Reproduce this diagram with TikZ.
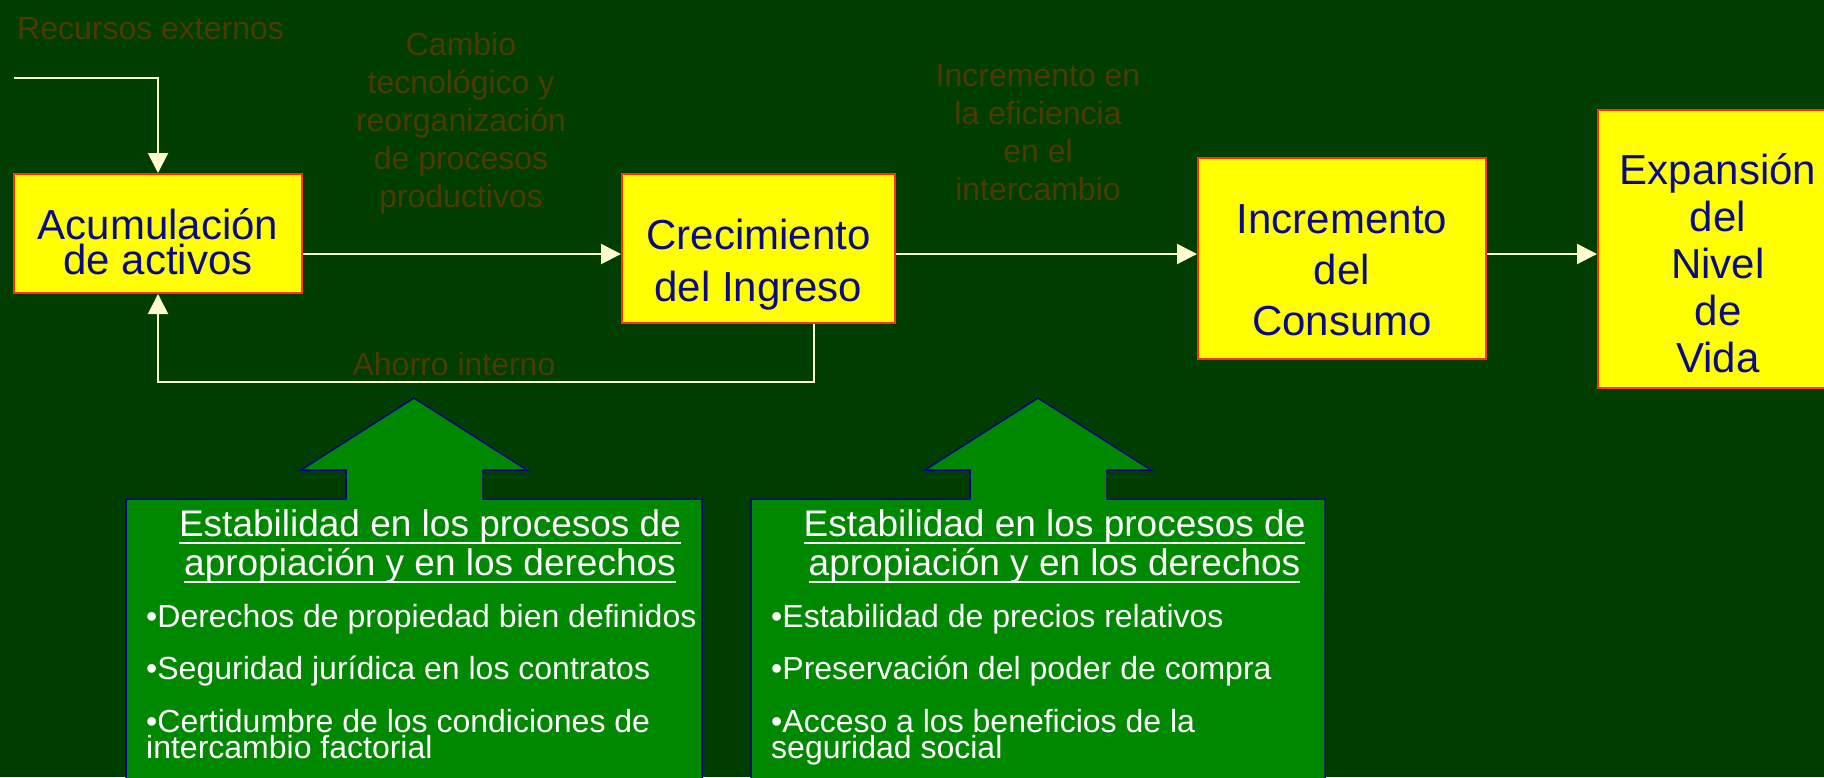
\documentclass[tikz,border=0pt]{standalone}
\usepackage{fontspec}
\setmainfont{Liberation Sans}
\usetikzlibrary{arrows.meta}
\definecolor{fondo}{RGB}{0,62,0}
\definecolor{amarillo}{RGB}{255,255,0}
\definecolor{borde}{RGB}{255,51,0}
\definecolor{azul}{RGB}{10,10,130}
\definecolor{cafe}{RGB}{77,58,0}
\definecolor{crema}{RGB}{255,255,204}
\definecolor{verde}{RGB}{0,136,0}
\definecolor{marino}{RGB}{0,0,128}
\newcommand{\subrayado}[1]{\setbox0\hbox{#1}\rlap{\rule[-7.8pt]{\wd0}{1.8pt}}\box0}
\begin{document}
\begin{tikzpicture}[x=1pt,y=-1pt,
    caja/.style={draw=borde,line width=2pt,fill=amarillo},
    cajatexto/.style={text=azul,align=center,inner sep=0pt,font=\fontsize{42}{#1}\selectfont},
    etiqueta/.style={text=cafe,align=center,inner sep=0pt,font=\fontsize{32}{38}\selectfont},
    flujo/.style={draw=crema,line width=2pt,-{Triangle[width=20pt,length=20pt]}},
    bloque/.style={draw=marino,line width=1.5pt,fill=verde},
    titulo/.style={text=white,align=center,inner sep=0pt,font=\fontsize{37}{39}\selectfont},
    lista/.style={text=white,align=left,anchor=north west,inner sep=0pt,font=\fontsize{32}{26}\selectfont}]
    \useasboundingbox[fill=fondo] (0,0) rectangle (1824,777);
    \clip (0,0) rectangle (1824,777);
    % cajas amarillas
    \node[caja,minimum width=288pt,minimum height=119pt] (acum) at (158,233.5) {};
    \node[caja,minimum width=273pt,minimum height=149pt] (crec) at (758.5,248.5) {};
    \node[caja,minimum width=288pt,minimum height=201pt] (cons) at (1342,258.5) {};
    \node[caja,minimum width=240pt,minimum height=278pt] (expa) at (1718,249) {};
    \node[cajatexto=35] (acumtxt) at (158,242) {Acumulación\\de activos};
    \node[cajatexto=52] (crectxt) at (758.5,265) {Crecimiento\\del Ingreso};
    \node[cajatexto=51] (constxt) at (1342,270.6) {Incremento\\del\\Consumo};
    \node[cajatexto=47] (expatxt) at (1718,263.5) {Expansión\\del\\Nivel\\de\\Vida};
    % etiquetas
    \node[etiqueta,anchor=base west] (recursos) at (17,39) {Recursos externos};
    \node[etiqueta] (cambio) at (461,123) {Cambio\\tecnológico y\\reorganización\\de procesos\\productivos};
    \node[etiqueta] (eficiencia) at (1038,133) {Incremento en\\la eficiencia\\en el\\intercambio};
    \node[etiqueta,anchor=base] (ahorro) at (454,375) {Ahorro interno};
    % conectores
    \coordinate (ext) at (14,78);
    \coordinate (nivel) at (0,254);
    \coordinate (retorno) at (814,382);
    \draw[flujo] (ext) -| (acum.north);
    \draw[flujo] (acum.east |- nivel) -- (crec.west |- nivel);
    \draw[flujo] (crec.east |- nivel) -- (cons.west |- nivel);
    \draw[flujo] (cons.east |- nivel) -- (expa.west |- nivel);
    \draw[flujo] (crec.south -| retorno) |- (acum.south |- retorno) -- (acum.south);
    % flechas verdes
    \draw[bloque] (126,790) -- (126,499) -- (346,499) -- (346,470) -- (301,470) -- (414,398)
        -- (527,470) -- (483,470) -- (483,499) -- (702,499) -- (702,790) -- cycle;
    \draw[bloque] (751,790) -- (751,499) -- (970,499) -- (970,470) -- (925,470) -- (1038,398)
        -- (1151,470) -- (1107,470) -- (1107,499) -- (1325,499) -- (1325,790) -- cycle;
    \node[titulo] (tit1) at (430,546) {\subrayado{Estabilidad en los procesos de}\\\subrayado{apropiación y en los derechos}};
    \node[titulo] (tit2) at (1054.5,546) {\subrayado{Estabilidad en los procesos de}\\\subrayado{apropiación y en los derechos}};
    \node[lista] (lista1) at (146,603.7) {•Derechos de propiedad bien definidos\\[21.5pt]
        •Seguridad jurídica en los contratos\\[21.5pt]
        •Certidumbre de los condiciones de\\intercambio factorial};
    \node[lista] (lista2) at (771,603.7) {•Estabilidad de precios relativos\\[21.5pt]
        •Preservación del poder de compra\\[21.5pt]
        •Acceso a los beneficios de la\\seguridad social};
\end{tikzpicture}
\end{document}
